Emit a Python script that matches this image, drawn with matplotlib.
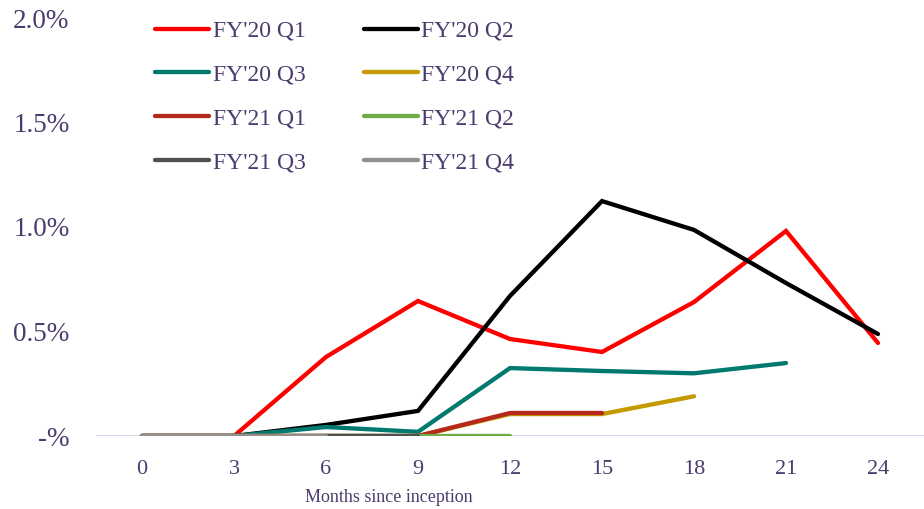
import matplotlib.pyplot as plt
from matplotlib.ticker import FuncFormatter

months = [0, 3, 6, 9, 12, 15, 18, 21, 24]

# default rate by cohort, % of original balance
fy20_q1 = [0, 0, 0.378, 0.646, 0.464, 0.402, 0.641, 0.981, 0.445]
fy20_q2 = [0, 0, 0.053, 0.120, 0.670, 1.124, 0.986, 0.732, 0.488]
fy20_q3 = [0, 0, 0.043, 0.020, 0.325, 0.311, 0.300, 0.349]
fy20_q4 = [0, 0, 0, 0, 0.105, 0.105, 0.190]
fy21_q1 = [0, 0, 0, 0, 0.110, 0.110]
fy21_q2 = [0, 0, 0, 0, 0]
fy21_q3 = [0, 0, 0, 0]
fy21_q4 = [0, 0, 0]

labels = ["FY'20 Q1", "FY'20 Q2", "FY'20 Q3", "FY'20 Q4",
          "FY'21 Q1", "FY'21 Q2", "FY'21 Q3", "FY'21 Q4"]
series = [fy20_q1, fy20_q2, fy20_q3, fy20_q4, fy21_q1, fy21_q2, fy21_q3, fy21_q4]
colors = ['#FF0000', '#000000', '#00796F', '#C49A00',
          '#B5281C', '#70AD47', '#4D5250', '#948F8C']

txt = '#4B3B6E'
plt.rcParams['font.family'] = ['Liberation Serif', 'DejaVu Serif']

fig = plt.figure(figsize=(9.24, 5.09), dpi=100)
ax = fig.add_axes([96 / 924, 1 - 436 / 509, 828 / 924, 418 / 509])

ax.axhline(0, color='#DCD6EC', lw=1.5, zorder=1)
lines = []
for vals, lab, c in zip(series, labels, colors):
    ln, = ax.plot(months[:len(vals)], vals, color=c, lw=3.1, label=lab,
                  solid_capstyle='round', solid_joinstyle='miter', zorder=2)
    lines.append(ln)

ax.set_xlim(-1.5, 25.5)
ax.set_ylim(0, 2.0)
ax.set_xticks(months)
ax.set_yticks([0, 0.5, 1.0, 1.5, 2.0])
ax.yaxis.set_major_formatter(FuncFormatter(lambda v, p: '-%' if v == 0 else '%.1f%%' % v))
ax.tick_params(length=0, labelcolor=txt)
ax.tick_params(axis='y', pad=19, labelsize=19.5)
ax.tick_params(axis='x', pad=17, labelsize=16)
for s in ax.spines.values():
    s.set_visible(False)

fig.text(389 / 924, 1 - 498 / 509, 'Months since inception', ha='center', va='center',
         fontsize=13, color=txt)

# legend fills row by row: reorder so column-major layout reads Q1 Q2 / Q3 Q4 ...
order = [0, 2, 4, 6, 1, 3, 5, 7]
leg = ax.legend([lines[i] for i in order], [labels[i] for i in order],
                ncol=2, loc='upper left', bbox_to_anchor=(0.0455, 1.045), frameon=False,
                fontsize=17, handlelength=2.3, handletextpad=0.15,
                columnspacing=2.45, labelspacing=0.94)
for t in leg.get_texts():
    t.set_color(txt)

fig.savefig('out.png', dpi=100)
